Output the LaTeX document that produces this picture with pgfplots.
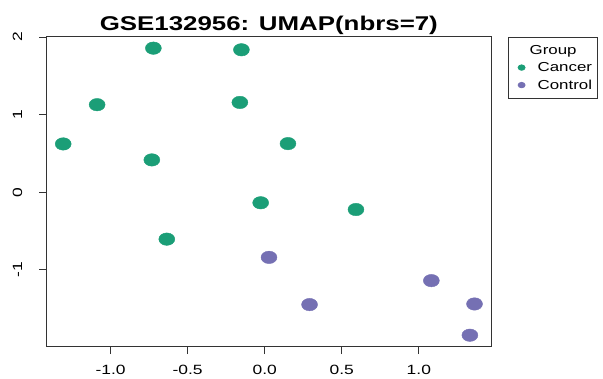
\documentclass[border=0pt]{standalone}
\usepackage{fontspec}
\usepackage{pgfplots}
\pgfplotsset{compat=1.18}
\newfontfamily\rfont[FakeStretch=1.3]{Liberation Sans}
\definecolor{cgreen}{HTML}{1B9E77}
\definecolor{cpurple}{HTML}{7570B3}
\newcommand\lstrut{\rule[-3pt]{0pt}{12.5pt}}
\pgfplotsset{legend image code/.code={\path[draw=none,fill=none] (-10pt,0pt) -- (4pt,0pt); \path[#1, draw=none, mark size=3.5pt] plot coordinates {(0pt,0pt)};}}
\begin{document}
\begin{tikzpicture}
\useasboundingbox (0,0) rectangle (603pt,379pt);
\begin{axis}[
 at={(46.7pt,32.3pt)}, anchor=south west,
 scale only axis, width=444.3pt, height=310pt,
 xmin=-1.414, xmax=1.468, ymin=-1.992, ymax=2.006,
 axis line style={black!80, line width=0.8pt},
 tick align=outside, major tick length=7.5pt,
 tick style={black!80, line width=0.8pt},
 xtick={-1,-0.5,0,0.5,1}, xticklabels={-1.0,-0.5,0.0,0.5,1.0},
 ytick={-1,0,1,2}, yticklabels={-1,0,1,2},
 xtick pos=left, ytick pos=left,
 tick label style={font=\rfont\fontsize{13.4}{16}\selectfont, inner sep=0pt},
 xticklabel style={anchor=north},
 xticklabel shift=11pt,
 yticklabel style={rotate=90, anchor=base},
 yticklabel shift=17pt,
 title={GSE132956: UMAP(nbrs=7)},
 title style={at={(0.5,1)}, anchor=base, yshift=0pt, inner sep=0pt,
   font=\rfont\bfseries\fontsize{19.9}{24}\selectfont},
 legend style={at={(1,1)}, anchor=north west, xshift=16.7pt, yshift=0pt,
   draw=black!80, line width=0.8pt, inner xsep=3.5pt, inner ysep=5.5pt,
   font=\rfont\fontsize{13}{15}\selectfont, row sep=2.5pt, column sep=10pt},
 legend cell align=left,
]
\addlegendimage{empty legend}
\addlegendentry{\hspace*{-8pt}\lstrut Group}
\addplot[only marks, mark=*, mark size=8pt, color=cgreen, mark options={yscale=0.78}]
 coordinates {
 (-0.722,1.858) (-0.151,1.837) (-1.087,1.129) (-0.161,1.158) (-1.307,0.623)
 (-0.732,0.417) (0.151,0.627) (-0.026,-0.136) (0.592,-0.223) (-0.635,-0.605)
 };
\addlegendentry{\lstrut Cancer}
\addplot[only marks, mark=*, mark size=8pt, color=cpurple, mark options={yscale=0.78}]
 coordinates {
 (0.028,-0.840) (0.291,-1.449) (1.081,-1.140) (1.361,-1.441) (1.331,-1.844)
 };
\addlegendentry{\lstrut Control}
\end{axis}
\end{tikzpicture}
\end{document}
